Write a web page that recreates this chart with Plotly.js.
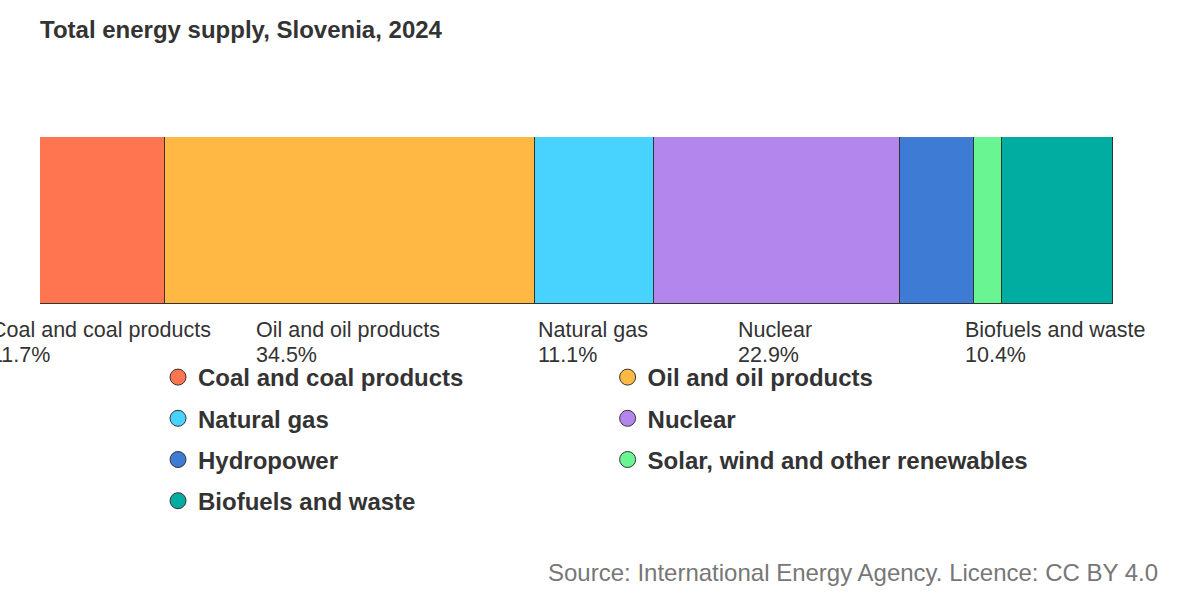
<!DOCTYPE html>
<html>
<head>
<meta charset="utf-8">
<script src="https://cdn.plot.ly/plotly-3.0.1.min.js"></script>
<style>
  html, body { margin: 0; padding: 0; background: #fff; }
  #chart { width: 1200px; height: 600px; }
</style>
</head>
<body>
<div id="chart"></div>
<script>
// data -------------------------------------------------------------------------
const categories = [
  "Coal and coal products",
  "Oil and oil products",
  "Natural gas",
  "Nuclear",
  "Hydropower",
  "Solar, wind and other renewables",
  "Biofuels and waste"
];
const shares = [11.7, 34.5, 11.1, 22.9, 6.9, 2.6, 10.4];
const colors = ["#ff7550", "#ffb844", "#48d3ff", "#b386ee", "#3e7bd5", "#6af593", "#00ada0"];
// which legend column each category goes into
const legendCols = ["legend", "legend2", "legend", "legend2", "legend", "legend2", "legend"];

const FONT = "Liberation Sans, Arial, sans-serif";
const LABEL_SIZE = 21.5;

// plot area in pixels (bar fills it)
const PLOT_TOP = 137, PLOT_BOTTOM = 304, PLOT_LEFT = 40, PLOT_RIGHT = 1113;
const plotH = PLOT_BOTTOM - PLOT_TOP, plotW = PLOT_RIGHT - PLOT_LEFT;
const total = shares.reduce((a, b) => a + b, 0);

// width of a label line, to centre a left aligned two-line block
const ctx = document.createElement("canvas").getContext("2d");
ctx.font = LABEL_SIZE + "px " + FONT;
function textWidth(s) { return ctx.measureText(s).width; }

// bars -------------------------------------------------------------------------
var data = categories.map((name, i) => ({
  type: "bar",
  orientation: "h",
  name: name,
  x: [shares[i]],
  y: [0],
  width: 1,
  marker: { color: colors[i], line: { color: "#333", width: 1 } },
  showlegend: false,
  hoverinfo: "name+x"
}));

// legend-only traces, so the legend shows circles
categories.forEach((name, i) => {
  data.push({
    type: "scatter",
    mode: "markers",
    name: name,
    x: [null],
    y: [null],
    legend: legendCols[i],
    legendgroup: "g" + i,
    marker: { color: colors[i], size: 16, symbol: "circle", line: { color: "#333", width: 1 } }
  });
});

// labels under the segments, only for the bigger ones
var annotations = [];
var start = 0;
shares.forEach((v, i) => {
  if (v >= 10) {
    var pct = v.toFixed(1) + "%";
    var w = Math.max(textWidth(categories[i]), textWidth(pct));
    [[categories[i], -26], [pct, -51]].forEach(([txt, dy]) => {
      annotations.push({
        x: start + v / 2,
        y: 0,
        xref: "x",
        yref: "paper",
        xanchor: "left",
        yanchor: "middle",
        xshift: -w / 2 - 4,
        yshift: dy,
        showarrow: false,
        text: txt,
        font: { family: FONT, size: LABEL_SIZE, color: "#333" }
      });
    });
  }
  start += v;
});

annotations.push({
  x: (1160 - PLOT_LEFT) / plotW,
  y: (PLOT_BOTTOM - 572) / plotH,
  xref: "paper",
  yref: "paper",
  xanchor: "right",
  yanchor: "middle",
  showarrow: false,
  text: "Source: International Energy Agency. Licence: CC BY 4.0",
  font: { family: FONT, size: 24, color: "#777" }
});

var legendStyle = {
  orientation: "v",
  yanchor: "top",
  xanchor: "left",
  bgcolor: "rgba(0,0,0,0)",
  tracegroupgap: 7,
  font: { family: FONT, size: 24, color: "#333", weight: "bold" }
};

var layout = {
  width: 1200,
  height: 600,
  margin: { l: PLOT_LEFT, r: 1200 - PLOT_RIGHT, t: PLOT_TOP, b: 600 - PLOT_BOTTOM },
  paper_bgcolor: "#fff",
  plot_bgcolor: "#fff",
  barmode: "stack",
  bargap: 0,
  title: {
    text: "Total energy supply, Slovenia, 2024",
    x: 40 / 1200,
    xref: "container",
    xanchor: "left",
    y: 1 - 30 / 600,
    yref: "container",
    yanchor: "middle",
    font: { family: FONT, size: 24, color: "#333", weight: "bold" }
  },
  xaxis: { range: [0, total], visible: false, fixedrange: true },
  yaxis: { range: [-0.5, 0.5], visible: false, fixedrange: true },
  legend: Object.assign({}, legendStyle, { x: 0.11, y: -(355 - PLOT_BOTTOM) / plotH }),
  legend2: Object.assign({}, legendStyle, { x: 0.529, y: -(355 - PLOT_BOTTOM) / plotH }),
  annotations: annotations,
  hovermode: "closest"
};

Plotly.newPlot("chart", data, layout, { displayModeBar: false });
</script>
</body>
</html>
